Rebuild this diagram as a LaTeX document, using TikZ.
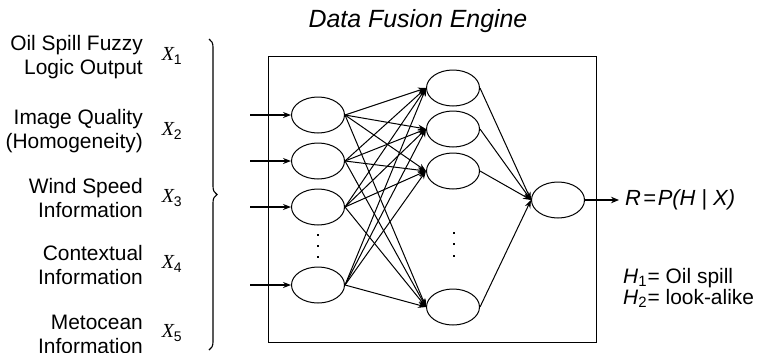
\documentclass[tikz,border=0pt]{standalone}
\usepackage{fontspec}
\setmainfont{Liberation Sans}
\newfontfamily\xserif{Liberation Serif}
\usetikzlibrary{shapes.geometric,arrows.meta,decorations.pathreplacing}
\begin{document}
\begin{tikzpicture}[x=1bp,y=-1bp,
  neuron/.style={draw,ellipse,line width=1bp,minimum width=53bp,minimum height=36bp,inner sep=0pt},
  conn/.style={line width=1bp,-{Stealth[length=8bp,width=6bp]}},
  inarrow/.style={line width=1.2bp,-{Stealth[length=8bp,width=6bp]}},
  lbl/.style={align=right,anchor=east,font=\fontsize{21}{24}\selectfont,inner sep=0pt},
  xlbl/.style={anchor=center,font=\xserif\itshape\fontsize{20}{24}\selectfont,inner sep=0pt},
  dotc/.style={fill,inner sep=0pt,minimum size=2.4bp,rectangle}]
\useasboundingbox (0,0) rectangle (760,352);
% frame
\node[draw,line width=1bp,minimum width=328bp,minimum height=286bp,inner sep=0pt,anchor=north west] (box) at (268,56) {};
\node[font=\itshape\fontsize{25}{29}\selectfont,inner sep=0pt] (title) at (418,21) {Data Fusion Engine};
% input neurons
\node[neuron] (i1) at (318,115) {};
\node[neuron] (i2) at (318,161) {};
\node[neuron] (i3) at (318,207) {};
\node[neuron] (i4) at (318,285) {};
% hidden neurons
\node[neuron] (h1) at (453,88) {};
\node[neuron] (h2) at (453,129) {};
\node[neuron] (h3) at (453,171) {};
\node[neuron] (h4) at (453,307) {};
% output neuron
\node[neuron] (o) at (558,200) {};
% dots
\node[dotc] (d1) at (318,235) {};
\node[dotc] (d2) at (318,246) {};
\node[dotc] (d3) at (318,257) {};
\node[dotc] (e1) at (454,233) {};
\node[dotc] (e2) at (454,244) {};
\node[dotc] (e3) at (454,256) {};
% input arrows
\coordinate (s1) at (250,115);
\coordinate (s2) at (250,161);
\coordinate (s3) at (250,207);
\coordinate (s4) at (250,285);
\foreach \k in {1,2,3,4}{\draw[inarrow] (s\k) -- (i\k.west);}
% full connections
\foreach \a in {1,2,3,4}{
  \foreach \b in {1,2,3,4}{
    \draw[conn] (i\a.east) -- (h\b.west);
  }
}
\foreach \b in {1,2,3,4}{\draw[conn] (h\b.east) -- (o.west);}
% output
\coordinate (r) at (619,200);
\draw[line width=1.8bp,-{Stealth[length=8bp,width=6.5bp]}] (o.east) -- (r);
\node[anchor=west,inner sep=0pt,font=\itshape\fontsize{22}{26}\selectfont] (res) at (625,200) {R\kern2pt=\kern2pt P(H\kern6pt{\upshape|}\kern6pt X)};
\node[anchor=west,inner sep=0pt,align=left,font=\fontsize{21}{21}\selectfont] (hyp) at (623,288) {\textit{H}\raisebox{-3bp}{\fontsize{15}{15}\selectfont 1}\kern1pt= Oil spill\\ \textit{H}\raisebox{-3bp}{\fontsize{15}{15}\selectfont 2}\kern1pt= look-alike};
% brace
\coordinate (bt) at (209,39);
\coordinate (bb) at (209,350);
\draw[line width=1.1bp,decorate,decoration={brace,amplitude=8bp}] (bt) -- (bb);
% left labels
\node[lbl] (l1) at (143,57) {Oil Spill Fuzzy\\Logic Output};
\node[lbl] (l2) at (143,131) {Image Quality\\(Homogeneity)};
\node[lbl] (l3) at (143,198) {Wind Speed\\Information};
\node[lbl] (l4) at (143,265) {Contextual\\Information};
\node[lbl] (l5) at (143,334) {Metocean\\Information};
\node[xlbl] (x1) at (172,56) {X$_{\mathrm{1}}$};
\node[xlbl] (x2) at (172,131) {X$_{\mathrm{2}}$};
\node[xlbl] (x3) at (172,198) {X$_{\mathrm{3}}$};
\node[xlbl] (x4) at (172,264) {X$_{\mathrm{4}}$};
\node[xlbl] (x5) at (172,333) {X$_{\mathrm{5}}$};
\end{tikzpicture}
\end{document}
